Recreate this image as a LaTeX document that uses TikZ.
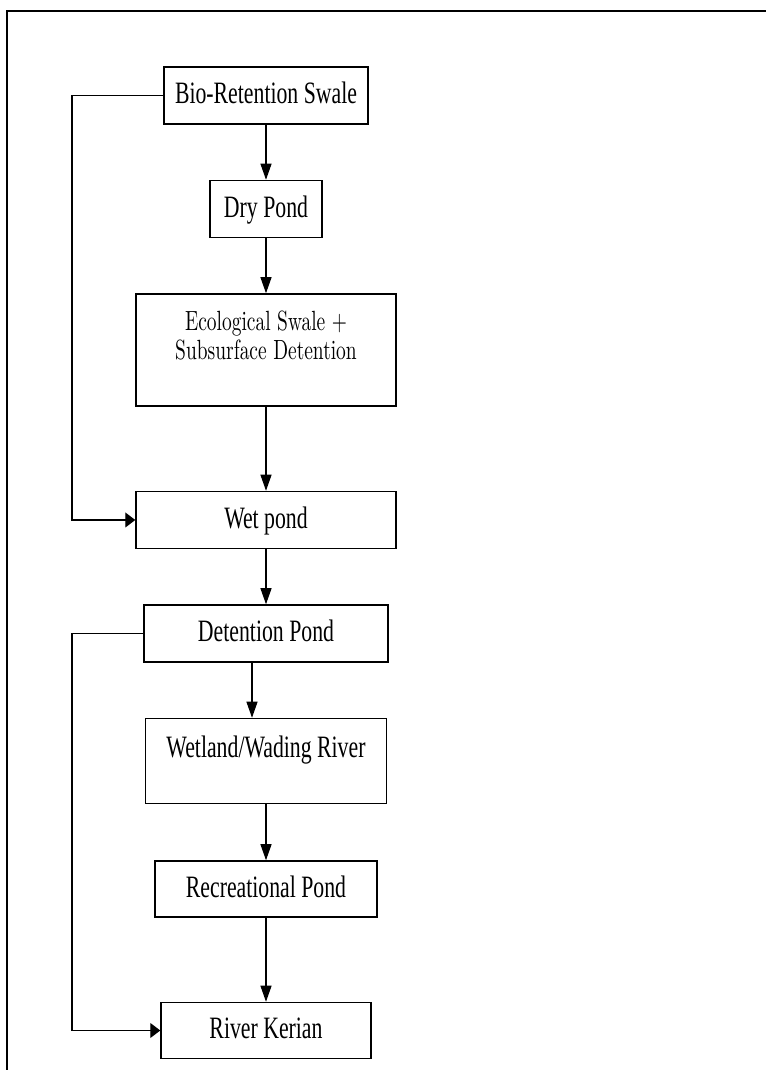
\documentclass[tikz,border=0pt]{standalone}
\usepackage{fontspec}
\newfontfamily\tnrfont[FakeStretch=0.70]{Liberation Serif}
\newfontfamily\ecofont[FakeStretch=0.70]{lmroman10-regular.otf}
\usetikzlibrary{positioning,arrows.meta}

\tikzset{
    stage/.style={draw, line width=1.5pt, inner sep=0pt, align=center,
        font=\tnrfont\fontsize{31.1}{29}\selectfont},
    oneline/.style={stage, text height=21pt, text depth=4pt},
    flow/.style={line width=1.1pt, -{Triangle[length=16pt,width=11pt]}},
    feed/.style={line width=1.1pt, -{Triangle[length=10pt,width=15pt]}},
}

\begin{document}
\begin{tikzpicture}[x=1pt, y=1pt]

    \useasboundingbox (0,0) rectangle (766,1070);
    \draw[line width=1.8pt] (7,0) |- (766,1059);

    \node[oneline, minimum width=204pt, minimum height=57pt] (bio) at (266,974.5) {Bio-Retention Swale};
    \node[oneline, minimum width=112pt, minimum height=57pt, below=55pt of bio] (dry) {Dry Pond};
    \node[stage, font=\ecofont\fontsize{27.8}{29}\selectfont,
        minimum width=260pt, minimum height=112pt, below=55pt of dry] (eco)
        {Ecological Swale +\\Subsurface Detention\\~};
    \node[oneline, minimum width=260pt, minimum height=57pt, below=84pt of eco] (wet) {Wet pond};
    \node[oneline, minimum width=244pt, minimum height=57pt, below=55pt of wet] (det) {Detention Pond};
    \node[stage, minimum width=241pt, minimum height=85pt, below=55pt of det] (wetland)
        {Wetland/Wading River\\~};
    \node[oneline, minimum width=222pt, minimum height=56pt, below=56pt of wetland] (rec) {Recreational Pond};
    \node[oneline, minimum width=210pt, minimum height=56pt, below=84pt of rec] (kerian) {River Kerian};

    \draw[flow] (bio) -- (dry);
    \draw[flow] (dry) -- (eco);
    \draw[flow] (eco) -- (wet);
    \draw[flow] (wet) -- (det);
    \draw[flow] ([xshift=-14pt]det.south) -- ([xshift=-14pt]det.south |- wetland.north);
    \draw[flow] (wetland) -- (rec);
    \draw[flow] (rec) -- (kerian);

    \coordinate (rail) at (72,0);
    \draw[feed] (bio.west) -- (bio.west -| rail) |- (wet.west);
    \draw[feed] (det.west) -- (det.west -| rail) |- (kerian.west);
\end{tikzpicture}
\end{document}
